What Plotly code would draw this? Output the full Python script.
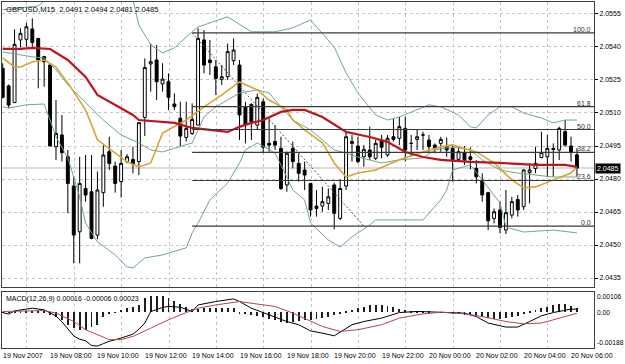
import plotly.graph_objects as go

# ---------------- data (GBPUSD M15, bar 0 = 19 Nov 2007 06:00) ----------------
bars = list(range(98))
opens = [2.05303, 2.05223, 2.05147, 2.05432, 2.05435, 2.05482, 2.05439, 2.05356, 2.05318, 2.04947,
         2.05000, 2.04901, 2.04768, 2.04560, 2.04757, 2.04742, 2.04545, 2.04738, 2.04924, 2.04859,
         2.04788, 2.04879, 2.04889, 2.04879, 2.05080, 2.05323, 2.05341, 2.05232, 2.05242, 2.05141,
         2.05076, 2.04989, 2.05007, 2.05045, 2.05432, 2.05341, 2.05310, 2.05253, 2.05265, 2.05338,
         2.05318, 2.05129, 2.05139, 2.05045, 2.05151, 2.04962, 2.04970, 2.04939, 2.04773, 2.04939,
         2.04871, 2.04841, 2.04780, 2.04677, 2.04677, 2.04689, 2.04773, 2.04621, 2.04768, 2.04970,
         2.04950, 2.04901, 2.04932, 2.04894, 2.04977, 2.04909, 2.04992, 2.04985, 2.05030, 2.04962,
         2.04980, 2.05000, 2.04977, 2.04954, 2.04962, 2.04950, 2.04939, 2.04889, 2.04920, 2.04901,
         2.04848, 2.04795, 2.04738, 2.04621, 2.04659, 2.04568, 2.04636, 2.04707, 2.04674, 2.04829,
         2.04848, 2.04898, 2.04901, 2.04939, 2.04932, 2.05015, 2.04950, 2.04910]
highs = [2.05326, 2.05230, 2.05480, 2.05485, 2.05510, 2.05530, 2.05439, 2.05360, 2.05326, 2.05159,
         2.05091, 2.04932, 2.04810, 2.04901, 2.04909, 2.04909, 2.04833, 2.04954, 2.04992, 2.04879,
         2.04932, 2.04913, 2.04947, 2.05056, 2.05348, 2.05416, 2.05409, 2.05326, 2.05280, 2.05189,
         2.05151, 2.05151, 2.05144, 2.05485, 2.05477, 2.05432, 2.05341, 2.05318, 2.05416, 2.05439,
         2.05341, 2.05151, 2.05144, 2.05189, 2.05166, 2.05076, 2.05045, 2.04992, 2.04924, 2.04970,
         2.04916, 2.04879, 2.04780, 2.04750, 2.04765, 2.04757, 2.04783, 2.04798, 2.05015, 2.05000,
         2.04992, 2.04954, 2.05038, 2.04977, 2.05000, 2.05000, 2.05076, 2.05083, 2.05083, 2.05000,
         2.05023, 2.05015, 2.05000, 2.04962, 2.04992, 2.04989, 2.04954, 2.04950, 2.04950, 2.04944,
         2.04886, 2.04826, 2.04742, 2.04666, 2.04697, 2.04750, 2.04719, 2.04727, 2.04844, 2.04871,
         2.04947, 2.05015, 2.05000, 2.04962, 2.05038, 2.05068, 2.04992, 2.04940]
lows = [2.05166, 2.05121, 2.05147, 2.05398, 2.05401, 2.05401, 2.05212, 2.05220, 2.04950, 2.04886,
        2.04879, 2.04644, 2.04417, 2.04417, 2.04697, 2.04526, 2.04526, 2.04674, 2.04841, 2.04738,
        2.04716, 2.04871, 2.04826, 2.04818, 2.04995, 2.05197, 2.05159, 2.05197, 2.05113, 2.05113,
        2.04947, 2.04970, 2.05000, 2.05045, 2.05280, 2.05273, 2.05182, 2.05227, 2.05250, 2.05318,
        2.04977, 2.04962, 2.04977, 2.05023, 2.04917, 2.04924, 2.04932, 2.04750, 2.04742, 2.04848,
        2.04788, 2.04750, 2.04629, 2.04629, 2.04651, 2.04659, 2.04571, 2.04613, 2.04750, 2.04879,
        2.04871, 2.04856, 2.04886, 2.04886, 2.04894, 2.04901, 2.04970, 2.04954, 2.04879, 2.04901,
        2.04932, 2.04932, 2.04917, 2.04917, 2.04924, 2.04901, 2.04788, 2.04879, 2.04864, 2.04844,
        2.04780, 2.04697, 2.04568, 2.04598, 2.04553, 2.04550, 2.04621, 2.04629, 2.04659, 2.04689,
        2.04826, 2.04894, 2.04810, 2.04810, 2.04886, 2.04947, 2.04879, 2.04810]
closes = [2.05171, 2.05136, 2.05412, 2.05462, 2.05492, 2.05420, 2.05341, 2.05333, 2.04950, 2.05007,
          2.04920, 2.04780, 2.04545, 2.04780, 2.04727, 2.04530, 2.04750, 2.04909, 2.04871, 2.04780,
          2.04871, 2.04901, 2.04868, 2.05056, 2.05307, 2.05333, 2.05242, 2.05254, 2.05171, 2.05129,
          2.04995, 2.05030, 2.05071, 2.05439, 2.05318, 2.05329, 2.05257, 2.05265, 2.05379, 2.05386,
          2.05091, 2.05045, 2.05060, 2.05171, 2.04944, 2.04954, 2.04954, 2.04757, 2.04917, 2.04879,
          2.04826, 2.04818, 2.04659, 2.04666, 2.04697, 2.04719, 2.04644, 2.04757, 2.04992, 2.04962,
          2.04879, 2.04935, 2.04901, 2.04962, 2.04944, 2.04985, 2.04980, 2.05038, 2.04932, 2.04962,
          2.04992, 2.05000, 2.04947, 2.04939, 2.04980, 2.04932, 2.04889, 2.04924, 2.04886, 2.04889,
          2.04810, 2.04727, 2.04610, 2.04651, 2.04580, 2.04647, 2.04697, 2.04659, 2.04841, 2.04841,
          2.04871, 2.04920, 2.04939, 2.04935, 2.05030, 2.04954, 2.04920, 2.04850]

# Bollinger bands (read at sample bars)
bb_up_bars = [0, 6, 8, 15, 20, 22, 23, 25, 27, 29, 32, 33, 38, 42, 46, 49, 52, 54, 56, 58, 60, 63, 65, 67,
              72, 74, 77, 79, 80, 82, 84, 86, 88, 91, 93, 95, 97]
bb_up = [2.05569, 2.05587, 2.05628, 2.05669, 2.05650, 2.05614, 2.05500, 2.05410, 2.05373, 2.05396,
         2.05469, 2.05491, 2.05537, 2.05469, 2.05469, 2.05487, 2.05523, 2.05464, 2.05400, 2.05282,
         2.05191, 2.05091, 2.05068, 2.05082, 2.05137, 2.05128, 2.05091, 2.05037, 2.05032, 2.05091,
         2.05128, 2.05128, 2.05100, 2.05077, 2.05055, 2.05068, 2.05068]
bb_mid_bars = [0, 1, 5, 7, 9, 11, 14, 17, 20, 23, 25, 27, 32, 34, 36, 40, 43, 45, 47, 49, 52, 56, 58, 60,
               64, 67, 71, 73, 76, 79, 81, 84, 87, 93, 97]
bb_mid = [2.05378, 2.05373, 2.05355, 2.05350, 2.05296, 2.05228, 2.05146, 2.05068, 2.05000, 2.04964,
          2.04932, 2.04923, 2.04964, 2.05082, 2.05128, 2.05191, 2.05205, 2.05191, 2.05128, 2.05068,
          2.05023, 2.04932, 2.04918, 2.04900, 2.04873, 2.04887, 2.04896, 2.04932, 2.04946, 2.04932,
          2.04887, 2.04841, 2.04827, 2.04809, 2.04809]
bb_low_bars = [0, 1, 4, 7, 8, 9, 11, 13, 14, 16, 19, 21, 22, 24, 27, 31, 32, 33, 35, 38, 40, 41, 43, 46,
               48, 49, 51, 52, 55, 57, 59, 62, 63, 71, 74, 75, 76, 79, 81, 84, 85, 88, 93, 97]
bb_low = [2.05128, 2.05123, 2.05137, 2.05141, 2.05068, 2.04991, 2.04896, 2.04719, 2.04600, 2.04514,
          2.04455, 2.04400, 2.04396, 2.04441, 2.04455, 2.04487, 2.04555, 2.04600, 2.04705, 2.04782,
          2.04873, 2.04932, 2.04964, 2.04918, 2.04809, 2.04750, 2.04705, 2.04600, 2.04523, 2.04491,
          2.04537, 2.04591, 2.04614, 2.04614, 2.04705, 2.04750, 2.04841, 2.04864, 2.04796, 2.04691,
          2.04582, 2.04559, 2.04568, 2.04555]

# moving averages (read at sample bars)
ma_red_bars = [0, 3, 5, 8, 11, 14, 16, 19, 22, 23, 25, 29, 32, 35, 38, 40, 42, 44, 47, 49, 51, 54, 58,
               62, 65, 68, 71, 74, 79, 84, 90, 95, 97]
ma_red = [2.05391, 2.05391, 2.05396, 2.05391, 2.05341, 2.05264, 2.05182, 2.05137, 2.05091, 2.05068,
          2.05064, 2.05055, 2.05032, 2.05023, 2.05014, 2.05037, 2.05055, 2.05068, 2.05105, 2.05114,
          2.05114, 2.05082, 2.05014, 2.04991, 2.04969, 2.04923, 2.04900, 2.04887, 2.04878, 2.04873,
          2.04864, 2.04864, 2.04855]
ma_gold_bars = [0, 2, 3, 5, 7, 9, 11, 14, 16, 19, 21, 23, 25, 27, 31, 34, 37, 40, 43, 45, 48, 49, 51,
                54, 56, 58, 60, 63, 67, 71, 74, 76, 80, 83, 86, 88, 90, 93, 96, 97]
ma_gold = [2.05350, 2.05309, 2.05309, 2.05332, 2.05341, 2.05309, 2.05237, 2.05114, 2.04978, 2.04918,
           2.04878, 2.04855, 2.04873, 2.05009, 2.05068, 2.05128, 2.05182, 2.05241, 2.05205, 2.05159,
           2.05114, 2.05068, 2.05023, 2.04964, 2.04873, 2.04809, 2.04827, 2.04841, 2.04887, 2.04923,
           2.04946, 2.04955, 2.04923, 2.04873, 2.04796, 2.04759, 2.04764, 2.04796, 2.04827, 2.04855]

# Fibonacci retracement
fib_high = 2.05464
fib_low = 2.04586
fib_start_bar = 32
fib_end_bar = 61
fib_ratios = [1.0, 0.618, 0.5, 0.382, 0.236, 0.0]
fib_texts = ["100.0", "61.8", "50.0", "38.2", "23.6", "0.0"]

bid_price = 2.0485
title_text = "GBPUSD,M15  2.0491 2.0494 2.0481 2.0485"

# MACD(12,26,9)
macd_hist = [-0.000017, -0.000017, 0.000017, 0.000035, 0.000052, 0.000052, 0.000052, 0.000017, -0.000139, -0.000261,
             -0.000435, -0.000661, -0.000836, -0.000923, -0.000923, -0.000783, -0.000661, -0.000226, -0.000052, -0.000017,
             0.000122, 0.000209, 0.000296, 0.000383, 0.000731, 0.000853, 0.000853, 0.000853, 0.000731, 0.000609,
             0.000435, 0.000261, 0.000157, 0.000157, 0.000209, 0.000244, 0.000244, 0.000244, 0.000244, 0.000244,
             -0.000052, -0.000087, -0.000157, -0.000191, -0.000261, -0.000366, -0.000435, -0.000540, -0.000574, -0.000540,
             -0.000487, -0.000435, -0.000400, -0.000366, -0.000313, -0.000226, -0.000139, -0.000052, 0.000035, 0.000122,
             0.000209, 0.000296, 0.000366, 0.000400, 0.000383, 0.000331, 0.000261, 0.000191, 0.000122, 0.000087,
             0.000070, 0.000052, 0.000035, 0.0, -0.000017, -0.000035, -0.000052, -0.000087, -0.000122, -0.000139,
             -0.000174, -0.000226, -0.000279, -0.000348, -0.000366, -0.000313, -0.000261, -0.000191, -0.000052, 0.000035,
             0.000122, 0.000209, 0.000296, 0.000366, 0.000418, 0.000418, 0.000330, 0.000230]
macd_main_bars = [0, 1, 2, 5, 7, 8, 9, 10, 11, 12, 13, 14, 15, 16, 17, 18, 20, 22, 23, 24, 25, 27, 28, 30,
                  32, 33, 36, 39, 40, 42, 45, 48, 50, 52, 54, 56, 59, 61, 64, 67, 70, 74, 78, 80, 82, 85,
                  87, 89, 91, 93, 96, 97]
macd_main = [-0.000017, -0.000104, 0.00007, 0.000209, 0.000122, -0.00005, -0.0002, -0.0005, -0.00085, -0.00125,
             -0.00142, -0.0015, -0.00175, -0.00178, -0.00165, -0.00153, -0.00136, -0.00115, -0.0009, -0.00057,
             0.00003, 0.00025, 0.0003, 0.00026, 0.00004, 0.00038, 0.00056, 0.0007, 0.00056, 0.00021,
             -0.00014, -0.00049, -0.00066, -0.00098, -0.0011, -0.00124, -0.00066, -0.00049, -0.00031, -0.00002,
             0.00004, 0.0, -0.00005, -0.00023, -0.00057, -0.00078, -0.00078, -0.00049, -0.00019, -0.00002,
             0.00016, 0.00016]
macd_signal_bars = [0, 3, 7, 9, 12, 14, 17, 18, 20, 22, 25, 28, 31, 33, 36, 39, 40, 42, 46, 49, 52, 54, 57,
                    60, 64, 67, 71, 74, 78, 81, 85, 88, 91, 94, 97]
macd_signal = [0.000035, 0.00007, 0.000087, -0.00005, -0.00049, -0.00092, -0.0013, -0.00144, -0.00144, -0.00127,
               -0.00084, -0.0004, -0.00002, 0.00021, 0.00038, 0.00052, 0.00056, 0.00047, 0.0003, -0.00005,
               -0.00049, -0.00075, -0.00101, -0.00092, -0.00066, -0.00031, -0.00009, 0.0, -0.00009, -0.00023,
               -0.00049, -0.00061, -0.00057, -0.00031, -0.00006]
macd_text = "MACD(12,26,9) 0.00016 -0.00006 0.00023"
macd_max = 0.00106
macd_min = -0.00188

x_label_bars = [0, 8, 16, 24, 32, 40, 48, 56, 64, 72, 80, 88, 96]
x_labels = ["19 Nov 2007", "19 Nov 08:00", "19 Nov 10:00", "19 Nov 12:00", "19 Nov 14:00",
            "19 Nov 16:00", "19 Nov 18:00", "19 Nov 20:00", "19 Nov 22:00", "20 Nov 00:00",
            "20 Nov 02:00", "20 Nov 04:00", "20 Nov 06:00"]
x_grid_bars = [4.1 + 8 * i for i in range(12)]
price_ticks = [2.0435, 2.0450, 2.0465, 2.0480, 2.0495, 2.0510, 2.0525, 2.0540, 2.0555]

# ---------------- styling / layout ----------------
X_MIN, X_MAX = -0.12, 99.88
Y_MIN, Y_MAX = 2.043091, 2.056045
FONT = "Liberation Sans"
GRID = "#c4c4c4"
TEAL = "#6fa596"
FIB_COLOR = "#3a3a3a"

fig = go.Figure()

# Bollinger bands
for bx, by in [(bb_up_bars, bb_up), (bb_mid_bars, bb_mid), (bb_low_bars, bb_low)]:
    fig.add_trace(go.Scatter(x=bx, y=by, mode="lines", line=dict(color=TEAL, width=1),
                             xaxis="x", yaxis="y", hoverinfo="skip", showlegend=False))

# candles
fig.add_trace(go.Candlestick(
    x=bars, open=opens, high=highs, low=lows, close=closes,
    increasing=dict(line=dict(color="black", width=1), fillcolor="white"),
    decreasing=dict(line=dict(color="black", width=1), fillcolor="black"),
    whiskerwidth=0, xaxis="x", yaxis="y", hoverinfo="skip", showlegend=False))

# moving averages
fig.add_trace(go.Scatter(x=ma_gold_bars, y=ma_gold, mode="lines", line=dict(color="#d6a531", width=1.6),
                         xaxis="x", yaxis="y", hoverinfo="skip", showlegend=False))
fig.add_trace(go.Scatter(x=ma_red_bars, y=ma_red, mode="lines", line=dict(color="#c0141c", width=2.2),
                         xaxis="x", yaxis="y", hoverinfo="skip", showlegend=False))

# Fibonacci levels
fib_levels = [fib_low + r * (fib_high - fib_low) for r in fib_ratios]
for lvl in fib_levels:
    fig.add_trace(go.Scatter(x=[fib_start_bar, X_MAX], y=[lvl, lvl], mode="lines",
                             line=dict(color=FIB_COLOR, width=1.2), xaxis="x", yaxis="y",
                             hoverinfo="skip", showlegend=False))
fig.add_trace(go.Scatter(x=[fib_start_bar, fib_end_bar], y=[fib_high, fib_low], mode="lines",
                         line=dict(color="#505050", width=1, dash="2px,2px"), xaxis="x", yaxis="y",
                         hoverinfo="skip", showlegend=False))

# MACD pane
fig.add_trace(go.Bar(x=bars, y=macd_hist, width=0.16, marker=dict(color="#1e1e1e", line=dict(width=0)),
                     xaxis="x2", yaxis="y2", hoverinfo="skip", showlegend=False))
fig.add_trace(go.Scatter(x=macd_main_bars, y=macd_main, mode="lines", line=dict(color="black", width=1),
                         xaxis="x2", yaxis="y2", hoverinfo="skip", showlegend=False))
fig.add_trace(go.Scatter(x=macd_signal_bars, y=macd_signal, mode="lines", line=dict(color="#b04848", width=1),
                         xaxis="x2", yaxis="y2", hoverinfo="skip", showlegend=False))

annotations = []
for b, t in zip(x_label_bars, x_labels):
    annotations.append(dict(x=b, xref="x2", y=0, yref="paper", yanchor="top", xanchor="left",
                            xshift=-2, yshift=-2, text=t, showarrow=False,
                            font=dict(family=FONT, size=7, color="black")))
for lvl, t in zip(fib_levels, fib_texts):
    annotations.append(dict(x=1, xref="x domain", y=lvl, yref="y", xanchor="right", yanchor="bottom",
                            xshift=-1, yshift=-2, text=t, showarrow=False,
                            font=dict(family=FONT, size=7, color="#333333")))
annotations.append(dict(x=0, xref="x domain", y=1, yref="y domain", xanchor="left", yanchor="top",
                        xshift=2, yshift=-1, text=title_text, showarrow=False,
                        font=dict(family=FONT, size=7.6, color="black")))
annotations.append(dict(x=0, xref="x2 domain", y=1, yref="y2 domain", xanchor="left", yanchor="top",
                        xshift=2, yshift=-1, text=macd_text, showarrow=False,
                        font=dict(family=FONT, size=7, color="black")))
annotations.append(dict(x=1, xref="x domain", y=bid_price, yref="y", xanchor="left", yanchor="middle",
                        xshift=1, text="2.0485", showarrow=False, bgcolor="black", borderpad=1,
                        font=dict(family=FONT, size=7, color="white")))
for v, t, sh in [(macd_max, "0.00106", -5), (0.0, "0.00", 0), (macd_min, "-0.00188", 5)]:
    annotations.append(dict(x=1, xref="x2 domain", y=v, yref="y2", xanchor="left", yanchor="middle",
                            xshift=1, yshift=sh, text=t, showarrow=False,
                            font=dict(family=FONT, size=6.7, color="black")))

axis_common = dict(showline=True, linecolor="#404040", linewidth=1, mirror=True, zeroline=False)

fig.update_layout(
    width=625, height=364,
    margin=dict(l=2, r=31, t=2, b=16),
    paper_bgcolor="white", plot_bgcolor="white",
    showlegend=False, bargap=0,
    font=dict(family=FONT, size=7, color="black"),
    xaxis=dict(domain=[0, 1], range=[X_MIN, X_MAX], anchor="y", tickvals=x_grid_bars,
               showticklabels=False, ticks="", showgrid=True, gridcolor=GRID, griddash="3px,3px",
               gridwidth=1, rangeslider=dict(visible=False), **axis_common),
    yaxis=dict(domain=[0.1763, 1], range=[Y_MIN, Y_MAX], anchor="x", side="right",
               tickvals=price_ticks, ticktext=["%.4f" % p for p in price_ticks],
               ticks="outside", ticklen=3, tickcolor="black", showgrid=True, gridcolor=GRID,
               griddash="3px,3px", tickfont=dict(family=FONT, size=7), **axis_common),
    xaxis2=dict(domain=[0, 1], range=[X_MIN, X_MAX], anchor="y2", tickvals=x_grid_bars,
                showticklabels=False, ticks="", showgrid=True, gridcolor=GRID, griddash="3px,3px",
                **axis_common),
    yaxis2=dict(domain=[0, 0.16185], range=[macd_min, macd_max], anchor="x2", side="right",
                showticklabels=False, ticks="", showgrid=False, **axis_common),
    shapes=[dict(type="line", xref="x domain", x0=0, x1=1, yref="y", y0=bid_price, y1=bid_price,
                 line=dict(color="#b4b4b4", width=1), layer="below")],
    annotations=annotations,
)

fig.write_html("out.html")
